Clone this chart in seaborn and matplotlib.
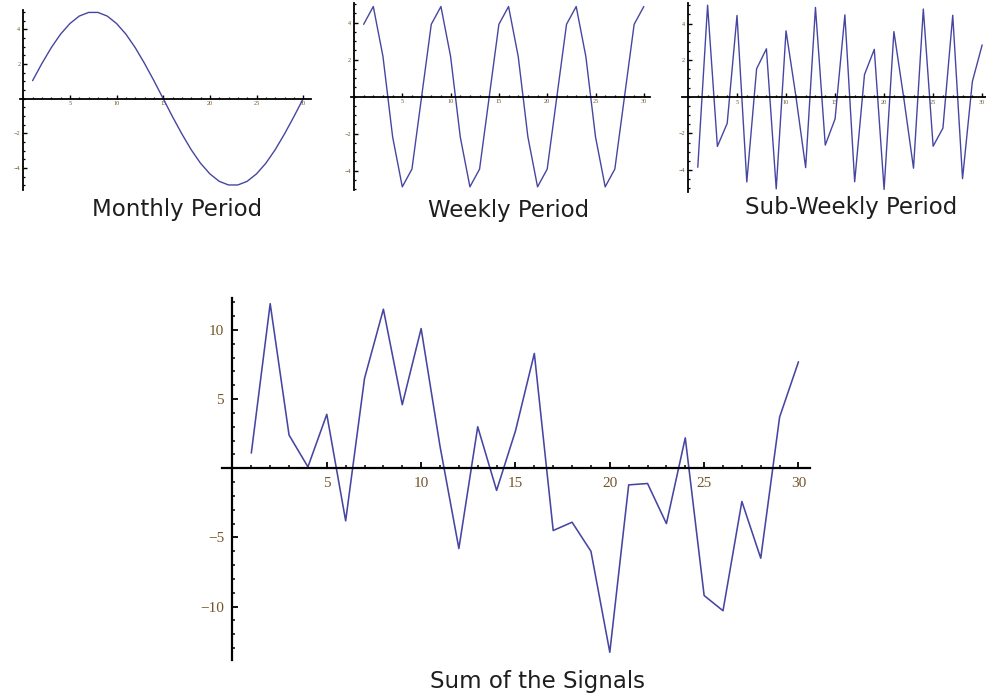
import matplotlib
matplotlib.use("Agg")
import matplotlib.pyplot as plt
import seaborn as sns
from matplotlib.ticker import FixedLocator, FixedFormatter, MultipleLocator

# --- data (one value per day) ---
days = list(range(1, 31))

monthly = [1.04, 2.03, 2.94, 3.72, 4.33, 4.76, 4.97, 4.97, 4.76, 4.33,
           3.72, 2.94, 2.03, 1.04, 0.0, -1.04, -2.03, -2.94, -3.72, -4.33,
           -4.76, -4.97, -4.97, -4.76, -4.33, -3.72, -2.94, -2.03, -1.04, 0.0]

weekly = [3.91, 4.87, 2.17, -2.17, -4.87, -3.91, 0.0,
          3.91, 4.87, 2.17, -2.17, -4.87, -3.91, 0.0,
          3.91, 4.87, 2.17, -2.17, -4.87, -3.91, 0.0,
          3.91, 4.87, 2.17, -2.17, -4.87, -3.91, 0.0,
          3.91, 4.87]

sub_weekly = [-3.85, 5.0, -2.71, -1.45, 4.44, -4.65, 1.53, 2.62, -5.03, 3.6,
              0.05, -3.87, 4.88, -2.64, -1.21, 4.47, -4.64, 1.21, 2.59, -5.06,
              3.56, -0.04, -3.9, 4.79, -2.7, -1.71, 4.45, -4.47, 0.83, 2.83]

signal_sum = [1.1, 11.9, 2.4, 0.1, 3.9, -3.8, 6.5, 11.5, 4.6, 10.1,
              1.6, -5.8, 3.0, -1.6, 2.7, 8.3, -4.5, -3.9, -6.0, -13.3,
              -1.2, -1.1, -4.0, 2.2, -9.2, -10.3, -2.4, -6.5, 3.7, 7.7]

small_xticks = [5, 10, 15, 20, 25, 30]
small_yticks = [-4, -2, 2, 4]
small_ylabels = ["\u22124", "\u22122", "2", "4"]
big_xticks = [5, 10, 15, 20, 25, 30]
big_yticks = [-10, -5, 5, 10]
big_ylabels = ["\u221210", "\u22125", "5", "10"]

titles = ["Monthly Period", "Weekly Period", "Sub-Weekly Period", "Sum of the Signals"]

LINE = "#4646a2"
TICK_TXT = "#74552a"
TITLE_TXT = "#1e1e1e"

sns.set_theme(style="white")
plt.rcParams["font.family"] = ["DejaVu Sans"]

W, H = 986, 696
fig = plt.figure(figsize=(W / 100, H / 100), dpi=100)


def px_axes(left, top, right, bottom):
    # place an axes using pixel coords measured from the top-left corner
    return fig.add_axes([left / W, 1 - bottom / H, (right - left) / W, (bottom - top) / H])


def mathematica_axes(ax, xlim, ylim, yticks, ylabels, yminor, small):
    ax.set_xlim(*xlim)
    ax.set_ylim(*ylim)
    ax.set_facecolor("none")
    ax.spines[["top", "right"]].set_visible(False)
    ax.spines["left"].set_position(("data", 0))
    ax.spines["bottom"].set_position(("data", 0))
    lw = 1.3 if small else 1.6
    for s in ("left", "bottom"):
        ax.spines[s].set_linewidth(lw)
        ax.spines[s].set_color("black")
    xt = small_xticks if small else big_xticks
    ax.xaxis.set_major_locator(FixedLocator(xt))
    ax.xaxis.set_major_formatter(FixedFormatter([str(v) for v in xt]))
    ax.xaxis.set_minor_locator(MultipleLocator(1))
    ax.yaxis.set_major_locator(FixedLocator(yticks))
    ax.yaxis.set_major_formatter(FixedFormatter(ylabels))
    ax.yaxis.set_minor_locator(MultipleLocator(yminor))
    size = 4.5 if small else 11
    ax.tick_params(which="both", direction="in", color="black",
                   bottom=True, left=True, top=False, right=False,
                   labelcolor=TICK_TXT, labelsize=size,
                   labelfontfamily="Liberation Serif")
    ax.tick_params(which="major", length=3 if small else 4, width=1.0 if small else 1.3,
                   pad=2 if small else 6)
    ax.tick_params(which="minor", length=1.6 if small else 2.4, width=0.9 if small else 1.1)
    ax.set_xlabel("")
    ax.set_ylabel("")


# top row: the three component signals
ax1 = px_axes(20, 10, 311, 190)
sns.lineplot(x=days, y=monthly, ax=ax1, color=LINE, linewidth=1.0)
mathematica_axes(ax1, (-0.35, 30.84), (-5.26, 5.11), small_yticks, small_ylabels, 0.5, True)

ax2 = px_axes(350.7, 3, 650, 190)
sns.lineplot(x=days, y=weekly, ax=ax2, color=LINE, linewidth=1.0)
mathematica_axes(ax2, (-0.34, 30.64), (-5.04, 5.06), small_yticks, small_ylabels, 0.5, True)

ax3 = px_axes(681.7, 3, 990, 192)
sns.lineplot(x=days, y=sub_weekly, ax=ax3, color=LINE, linewidth=1.0)
mathematica_axes(ax3, (-0.64, 30.8), (-5.2, 5.12), small_yticks, small_ylabels, 0.5, True)

# bottom: the sum
ax4 = px_axes(221.7, 298, 809.8, 660)
sns.lineplot(x=days, y=signal_sum, ax=ax4, color=LINE, linewidth=1.15)
mathematica_axes(ax4, (-0.57, 30.6), (-13.86, 12.31), big_yticks, big_ylabels, 1, False)

# captions under each plot
for (cx, by), txt in zip([(177.5, 216), (509, 216.5), (850.7, 214), (538, 688)], titles):
    fig.text(cx / W, 1 - by / H, txt, ha="center", va="baseline",
             fontsize=16.5, color=TITLE_TXT)

fig.savefig("out.png", dpi=100)
plt.close(fig)
